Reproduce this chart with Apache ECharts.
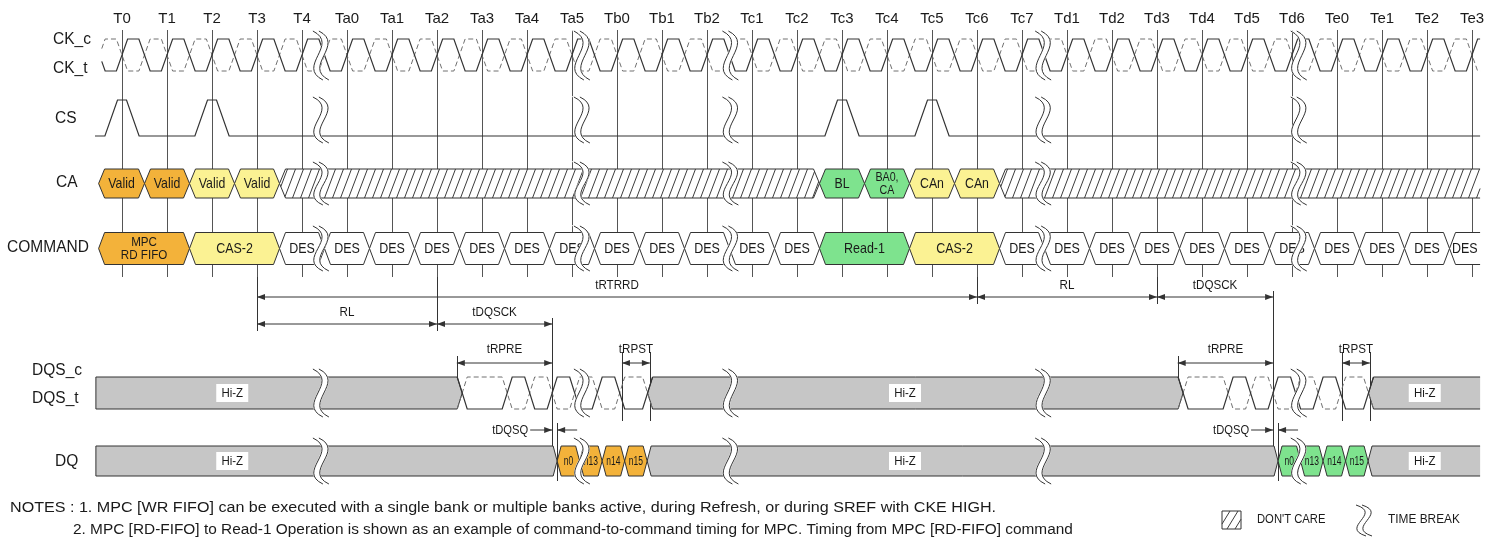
<!DOCTYPE html>
<html>
<head>
<meta charset="utf-8">
<title>MPC RD FIFO to Read-1 timing</title>
<script src="https://cdn.jsdelivr.net/npm/echarts@6.0.0/dist/echarts.min.js"></script>
<style>
html,body{margin:0;padding:0;background:#ffffff;}
#chart{width:1491px;height:540px;}
</style>
</head>
<body>
<div id="chart"></div>
<script>
// ======================= DATA (cycle units; T0 = 0) =======================
const tickLabels = ['T0','T1','T2','T3','T4','Ta0','Ta1','Ta2','Ta3','Ta4','Ta5','Tb0','Tb1','Tb2','Tc1','Tc2','Tc3','Tc4','Tc5','Tc6','Tc7','Td1','Td2','Td3','Td4','Td5','Td6','Te0','Te1','Te2','Te3'];
const signalNames = ['CK_c','CK_t','CS','CA','COMMAND','DQS_c','DQS_t','DQ'];
const timeBreaks = [4.42, 10.22, 13.52, 20.47, 26.15];
const csPulseAt = [0, 2, 16, 18];

const caSegments = [
  {from:-0.52, to:0.5,  label:'Valid', kind:'orange'},
  {from:0.5,   to:1.5,  label:'Valid', kind:'orange'},
  {from:1.5,   to:2.5,  label:'Valid', kind:'yellow'},
  {from:2.5,   to:3.5,  label:'Valid', kind:'yellow'},
  {from:3.5,   to:15.5, label:'',      kind:'dontcare'},
  {from:15.5,  to:16.5, label:'BL',    kind:'green'},
  {from:16.5,  to:17.5, label:'BA0,\nCA', kind:'green'},
  {from:17.5,  to:18.5, label:'CAn',   kind:'yellow'},
  {from:18.5,  to:19.5, label:'CAn',   kind:'yellow'},
  {from:19.5,  to:30.18,label:'',      kind:'dontcare'}
];

const commandSegments = [
  {from:-0.52, to:1.5,  label:'MPC\nRD FIFO', kind:'orange'},
  {from:1.5,  to:3.5,  label:'CAS-2', kind:'yellow'},
  {from:3.5,  to:4.5,  label:'DES', kind:'des'},
  {from:4.5,  to:5.5,  label:'DES', kind:'des'},
  {from:5.5,  to:6.5,  label:'DES', kind:'des'},
  {from:6.5,  to:7.5,  label:'DES', kind:'des'},
  {from:7.5,  to:8.5,  label:'DES', kind:'des'},
  {from:8.5,  to:9.5,  label:'DES', kind:'des'},
  {from:9.5,  to:10.5, label:'DES', kind:'des'},
  {from:10.5, to:11.5, label:'DES', kind:'des'},
  {from:11.5, to:12.5, label:'DES', kind:'des'},
  {from:12.5, to:13.5, label:'DES', kind:'des'},
  {from:13.5, to:14.5, label:'DES', kind:'des'},
  {from:14.5, to:15.5, label:'DES', kind:'des'},
  {from:15.5, to:17.5, label:'Read-1', kind:'green'},
  {from:17.5, to:19.5, label:'CAS-2', kind:'yellow'},
  {from:19.5, to:20.5, label:'DES', kind:'des'},
  {from:20.5, to:21.5, label:'DES', kind:'des'},
  {from:21.5, to:22.5, label:'DES', kind:'des'},
  {from:22.5, to:23.5, label:'DES', kind:'des'},
  {from:23.5, to:24.5, label:'DES', kind:'des'},
  {from:24.5, to:25.5, label:'DES', kind:'des'},
  {from:25.5, to:26.5, label:'DES', kind:'des'},
  {from:26.5, to:27.5, label:'DES', kind:'des'},
  {from:27.5, to:28.5, label:'DES', kind:'des'},
  {from:28.5, to:29.5, label:'DES', kind:'des'},
  {from:29.5, to:30.18,label:'DES', kind:'des'}
];

const dqsHiZ = [
  {from:-0.58, to:7.56,  label:'Hi-Z', labelAt:2.45, kind:'hiz'},
  {from:11.68, to:23.58, label:'Hi-Z', labelAt:17.4, kind:'hiz'},
  {from:27.7,  to:30.18, label:'Hi-Z', labelAt:28.95, kind:'hiz'}
];
// DQS_t toggle instants inside each burst (first edge rising)
const dqsBursts = [
  {from:7.56,  to:11.68, edges:[8.56, 9.06, 9.56, 10.06, 10.56, 11.06]},
  {from:23.58, to:27.7,  edges:[24.58, 25.08, 25.58, 26.08, 26.58, 27.08]}
];

const dqHiZ = [
  {from:-0.58, to:9.67,  label:'Hi-Z', labelAt:2.45, kind:'hiz'},
  {from:11.67, to:25.69, label:'Hi-Z', labelAt:17.4, kind:'hiz'},
  {from:27.69, to:30.18, label:'Hi-Z', labelAt:28.95, kind:'hiz'}
];
const dqData = [
  {from:9.67,  to:10.17, label:'n0',  kind:'orange'},
  {from:10.17, to:10.67, label:'n13', kind:'orange'},
  {from:10.67, to:11.17, label:'n14', kind:'orange'},
  {from:11.17, to:11.67, label:'n15', kind:'orange'},
  {from:25.69, to:26.19, label:'n0',  kind:'green'},
  {from:26.19, to:26.69, label:'n13', kind:'green'},
  {from:26.69, to:27.19, label:'n14', kind:'green'},
  {from:27.19, to:27.69, label:'n15', kind:'green'}
];

const dimensions = [
  {label:'tRTRRD', from:3,     to:19,    row:'upper'},
  {label:'RL',     from:19,    to:23,    row:'upper'},
  {label:'tDQSCK', from:23,    to:25.58, row:'upper'},
  {label:'RL',     from:3,     to:7,     row:'lower'},
  {label:'tDQSCK', from:7,     to:9.56,  row:'lower'},
  {label:'tRPRE',  from:7.44,  to:9.56,  row:'pre'},
  {label:'tRPST',  from:11.11, to:11.73, row:'pre'},
  {label:'tRPRE',  from:23.46, to:25.58, row:'pre'},
  {label:'tRPST',  from:27.11, to:27.73, row:'pre'},
  {label:'tDQSQ',  from:9.56,  to:9.67,  row:'dqsq'},
  {label:'tDQSQ',  from:25.58, to:25.69, row:'dqsq'}
];

const notes = [
  'NOTES : 1. MPC [WR FIFO] can be executed with a single bank or multiple banks active, during Refresh, or during SREF with CKE HIGH.',
  '2. MPC [RD-FIFO] to Read-1 Operation is shown as an example of command-to-command timing for MPC. Timing from MPC [RD-FIFO] command'
];
const legendLabels = ["DON'T CARE", 'TIME BREAK'];

// ======================= STYLE / LAYOUT =======================
const FONT = "'Liberation Sans', Arial, Helvetica, sans-serif";
const COL = {line:'#333333', tick:'#555555', dash:'#707070', text:'#1a1a1a'};
const FILL = {orange:'#F3B23A', yellow:'#FBF293', green:'#7EE38E', des:'#ffffff', dontcare:'#ffffff', hiz:'#C6C6C6'};
const L = {
  xLeft:-0.5, xRight:30.18, clkStart:-0.45, csStart:-0.6,
  tickTop:30, tickBottom:277,
  ck:{hi:39, lo:71, brk:[31,80]},
  cs:{hi:100, lo:136, brk:[97,143]},
  ca:{c:183.5, h:14.5, brk:[162,205]},
  cmd:{c:248.5, h:16, brk:[226,271]},
  dqs:{c:393, h:16, brk:[369,417]},
  dq:{c:461, h:15, brk:[438,484]},
  dimY:{upper:297, lower:324, pre:363, dqsq:430},
  dimExt:[
    [[277,331],[277,304]],
    [[277,304],[277,304]],
    [[277,304],[291,446]],
    [[277,331],[277,331]],
    [[277,331],[318,446]],
    [[356,393],[318,446]],
    [[352,421],[352,421]],
    [[356,393],[291,446]],
    [[352,421],[352,421]],
    [[318,446],[423,481]],
    [[291,446],[423,481]]
  ],
  names:[[53,40],[53,69],[55,119],[56,183],[7,248],[32,371],[32,399],[55,462]],
  notes:[[10,508, 1.15],[73,530, 1.1]]
};

// ======================= HELPERS =======================
function txt(x, y, text, size, o) {
  o = o || {};
  const st = {text:text, fill:o.color || COL.text, font:size + 'px ' + FONT,
      align:o.align || 'center', verticalAlign:o.va || 'middle'};
  if (o.lh) st.lineHeight = o.lh;
  return {type:'text', x:x, y:y, scaleX:o.sx || 1, z2:20, style:st};
}
function seg(x1, y1, x2, y2, o) {
  o = o || {};
  return {type:'line', shape:{x1:x1, y1:y1, x2:x2, y2:y2},
    style:{stroke:o.stroke || COL.line, lineWidth:o.lw || 1}};
}
function arrowHead(tipX, y, dir) {
  const len = 8, w = 3;
  return {type:'polygon', shape:{points:[[tipX, y], [tipX - dir * len, y - w], [tipX - dir * len, y + w]]},
    style:{fill:COL.line}};
}
function clipSegToPoly(p0, p1, poly) {
  let t0 = 0, t1 = 1;
  const dx = p1[0] - p0[0], dy = p1[1] - p0[1];
  let area = 0;
  for (let i = 0; i < poly.length; i++) {
    const a = poly[i], b = poly[(i + 1) % poly.length];
    area += a[0] * b[1] - b[0] * a[1];
  }
  const s = area > 0 ? 1 : -1;
  for (let i = 0; i < poly.length; i++) {
    const a = poly[i], b = poly[(i + 1) % poly.length];
    const ex = b[0] - a[0], ey = b[1] - a[1];
    const num = s * (ex * (p0[1] - a[1]) - ey * (p0[0] - a[0]));
    const den = s * (ex * dy - ey * dx);
    if (Math.abs(den) < 1e-9) { if (num < 0) return null; }
    else { const t = -num / den; if (den > 0) t0 = Math.max(t0, t); else t1 = Math.min(t1, t); }
  }
  if (t0 >= t1) return null;
  return [[p0[0] + dx * t0, p0[1] + dy * t0], [p0[0] + dx * t1, p0[1] + dy * t1]];
}
function hatch(poly, xa, xb, yt, yb) {
  const out = [], slant = 11, step = 8;
  for (let x = xa - slant; x < xb + 1; x += step) {
    const c = clipSegToPoly([x, yb], [x + slant, yt], poly);
    if (c) out.push(seg(c[0][0], c[0][1], c[1][0], c[1][1], {stroke:'#3c3c3c'}));
  }
  return out;
}
function cubicPts(P, n) {
  const out = [];
  for (let k = 0; k <= n; k++) {
    const t = k / n, u = 1 - t;
    out.push([u*u*u*P[0][0] + 3*u*u*t*P[1][0] + 3*u*t*t*P[2][0] + t*t*t*P[3][0],
              u*u*u*P[0][1] + 3*u*u*t*P[1][1] + 3*u*t*t*P[2][1] + t*t*t*P[3][1]]);
  }
  return out;
}
function breakSymbol(x, ya, yb) {
  const h = yb - ya, g = 3;
  const c = o => [[x + o - 5, ya], [x + o + 22, ya + h * 0.28], [x + o - 22, ya + h * 0.72], [x + o + 5, yb]];
  const A = c(-g), B = c(g);
  const fillPts = cubicPts(A, 24).concat(cubicPts(B, 24).reverse());
  const curve = P => ({type:'bezierCurve',
    shape:{x1:P[0][0], y1:P[0][1], cpx1:P[1][0], cpy1:P[1][1], cpx2:P[2][0], cpy2:P[2][1], x2:P[3][0], y2:P[3][1]},
    style:{fill:'none', stroke:COL.line, lineWidth:1}});
  return [
    {type:'polygon', shape:{points:fillPts}, style:{fill:'#ffffff', stroke:'#ffffff', lineWidth:1.5}},
    curve(A), curve(B)
  ];
}
function clipX(pts, a, b) {
  const out = [];
  for (let k = 0; k < pts.length; k++) {
    const p = pts[k], q = pts[k - 1];
    if (p[0] >= a && p[0] <= b) {
      if (out.length === 0 && q && q[0] < a) out.push([a, q[1] + (p[1] - q[1]) * (a - q[0]) / (p[0] - q[0])]);
      out.push(p);
    } else if (p[0] > b && q && q[0] <= b) {
      out.push([b, q[1] + (p[1] - q[1]) * (b - q[0]) / (p[0] - q[0])]);
      break;
    }
  }
  return out;
}
function crisp(x) { return Math.round(x) + 0.5; }

// bus/segment renderer (CA, COMMAND, DQS Hi-Z, DQ)
function busRenderer(items, row, inset, textSize, textSx, multiSize) {
  return function (params, api) {
    const it = items[params.dataIndex];
    const X = v => api.coord([v, L[row].c])[0];
    const Yc = api.coord([0, L[row].c])[1];
    const yt = Yc - L[row].h, yb = Yc + L[row].h;
    const from = api.value(0), to = api.value(1);
    const xa = X(from), xb = X(to);
    const startMode = (it.kind === 'hiz' && from <= L.xLeft) ? 'flat' : 'point';
    const endMode = to >= L.xRight ? 'open' : 'point';
    const left = startMode === 'point' ? [[xa + inset, yb], [xa, Yc], [xa + inset, yt]] : [[xa, yb], [xa, yt]];
    const right = endMode === 'point' ? [[xb - inset, yt], [xb, Yc], [xb - inset, yb]] : [[xb, yt], [xb, yb]];
    const poly = left.concat(right);
    const kids = [{type:'polygon', shape:{points:poly}, style:{fill:FILL[it.kind]}}];
    if (it.kind === 'dontcare') kids.push.apply(kids, hatch(poly, xa, xb, yt, yb));
    if (endMode === 'open') {
      kids.push({type:'polyline', shape:{points:[[xb, yb]].concat(left, [[xb, yt]])},
        style:{fill:'none', stroke:COL.line, lineWidth:1}});
    } else {
      kids.push({type:'polygon', shape:{points:poly}, style:{fill:'none', stroke:COL.line, lineWidth:1}});
    }
    if (it.kind === 'hiz') {
      const lx = X(it.labelAt);
      kids.push({type:'rect', shape:{x:lx - 16, y:Yc - 9, width:32, height:18}, style:{fill:'#ffffff'}});
      kids.push(txt(lx, Yc + 0.5, it.label, 13.5, {sx:0.85}));
    } else if (it.label) {
      const multi = it.label.indexOf('\n') >= 0;
      kids.push(txt((xa + xb) / 2, Yc + 0.5, it.label, multi ? multiSize : textSize,
        {sx:textSx, lh:multi ? multiSize - 0.5 : 0}));
    }
    return {type:'group', children:kids};
  };
}

function renderTick(params, api) {
  const x = crisp(api.coord([api.value(0), 0])[0]);
  const y0 = api.coord([0, L.tickTop])[1], y1 = api.coord([0, L.tickBottom])[1];
  return seg(x, y0, x, y1, {stroke:COL.tick});
}

function renderClock(params, api) {
  const a = api.value(0), b = api.value(1), w = 0.125;
  const base = [];
  for (let i = -1; i <= tickLabels.length; i++) {
    base.push([i - w, 0], [i + w, 1], [i + 0.5 - w, 1], [i + 0.5 + w, 0]);
  }
  const pts = clipX(base, a, b);
  const solid = pts.map(p => [api.coord([p[0], 0])[0], api.coord([0, L.ck.lo + (L.ck.hi - L.ck.lo) * p[1]])[1]]);
  const dashed = pts.map(p => [api.coord([p[0], 0])[0], api.coord([0, L.ck.hi + (L.ck.lo - L.ck.hi) * p[1]])[1]]);
  return {type:'group', children:[
    {type:'polyline', shape:{points:dashed}, style:{fill:'none', stroke:COL.dash, lineWidth:1, lineDash:[5, 3]}},
    {type:'polyline', shape:{points:solid}, style:{fill:'none', stroke:COL.line, lineWidth:1.2}}
  ]};
}

function renderCS(params, api) {
  const a = api.value(0), b = api.value(1);
  const P = (x, y) => api.coord([x, y]);
  const pts = [P(a, L.cs.lo)];
  csPulseAt.forEach(p => {
    pts.push(P(p - 0.38, L.cs.lo), P(p - 0.1, L.cs.hi), P(p + 0.1, L.cs.hi), P(p + 0.38, L.cs.lo));
  });
  pts.push(P(b, L.cs.lo));
  return {type:'polyline', shape:{points:pts}, style:{fill:'none', stroke:COL.line, lineWidth:1.2}};
}

function renderDQS(params, api) {
  const bu = dqsBursts[params.dataIndex];
  const hi = api.coord([0, L.dqs.c - L.dqs.h])[1], lo = api.coord([0, L.dqs.c + L.dqs.h])[1];
  const X = v => api.coord([v, 0])[0];
  const d = 5, w = 5;
  function wave(inv) {
    const lv = high => (high !== inv) ? hi : lo;
    const x0 = X(api.value(0)), x1 = X(api.value(1));
    const pts = [[x0 - d, lv(true)], [x0 + d, lv(false)]];
    let level = false;
    bu.edges.forEach(e => { const xe = X(e); pts.push([xe - w, lv(level)]); level = !level; pts.push([xe + w, lv(level)]); });
    pts.push([x1 - d, lv(level)], [x1 + d, lv(!level)]);
    return pts;
  }
  return {type:'group', children:[
    {type:'polyline', shape:{points:wave(true)}, style:{fill:'none', stroke:COL.dash, lineWidth:1, lineDash:[5, 3]}},
    {type:'polyline', shape:{points:wave(false)}, style:{fill:'none', stroke:COL.line, lineWidth:1.2}}
  ]};
}

function renderDim(params, api) {
  const i = params.dataIndex, dm = dimensions[i];
  const yv = L.dimY[dm.row];
  const Y = v => api.coord([0, v])[1];
  const yy = Y(yv);
  const xa = api.coord([api.value(0), yv])[0], xb = api.coord([api.value(1), yv])[0];
  const ext = L.dimExt[i];
  const kids = [];
  [[xa, ext[0]], [xb, ext[1]]].forEach(e => {
    const xx = crisp(e[0]);
    kids.push(seg(xx, Y(e[1][0]), xx, Y(e[1][1]), {stroke:COL.line}));
  });
  if (dm.row === 'dqsq') {
    kids.push(seg(xa - 22, yy, xa, yy), arrowHead(xa, yy, 1), seg(xb, yy, xb + 20, yy), arrowHead(xb, yy, -1));
    kids.push(txt(xa - 24, yy, dm.label, 13, {align:'right', sx:0.86}));
  } else {
    kids.push(seg(xa, yy, xb, yy), arrowHead(xa, yy, -1), arrowHead(xb, yy, 1));
    kids.push(txt((xa + xb) / 2, yy - (dm.row === 'pre' ? 14 : 12), dm.label, 13.5, {sx:0.86}));
  }
  return {type:'group', children:kids};
}

function renderBreak(params, api) {
  const x = api.coord([api.value(0), 0])[0];
  const kids = [];
  ['ck', 'cs', 'ca', 'cmd', 'dqs', 'dq'].forEach(r => {
    const ya = api.coord([0, L[r].brk[0]])[1], yb = api.coord([0, L[r].brk[1]])[1];
    kids.push.apply(kids, breakSymbol(x, ya, yb));
  });
  return {type:'group', children:kids};
}

function custom(name, data, z, renderItem) {
  return {type:'custom', name:name, coordinateSystem:'cartesian2d', data:data, z:z,
    clip:false, silent:true, animation:false, renderItem:renderItem};
}

// ======================= GRAPHIC (row names, notes, legend) =======================
const graphics = [];
signalNames.forEach((n, i) => {
  graphics.push({type:'text', x:L.names[i][0], y:L.names[i][1], scaleX:0.97,
    style:{text:n, font:'16px ' + FONT, fill:COL.text, align:'left', verticalAlign:'middle'}});
});
notes.forEach((n, i) => {
  graphics.push({type:'text', x:L.notes[i][0], y:L.notes[i][1], scaleX:L.notes[i][2],
    style:{text:n, font:'14px ' + FONT, fill:COL.text, align:'left', verticalAlign:'middle'}});
});
(function legend() {
  const bx = 1222, by = 511, bw = 19, bh = 18;
  const box = [[bx, by], [bx + bw, by], [bx + bw, by + bh], [bx, by + bh]];
  graphics.push({type:'rect', shape:{x:bx, y:by, width:bw, height:bh}, style:{fill:'#fff', stroke:COL.line, lineWidth:1}});
  hatch(box, bx, bx + bw, by, by + bh).forEach(h => graphics.push(h));
  graphics.push({type:'text', x:1257, y:520, scaleX:0.9,
    style:{text:legendLabels[0], font:'12.5px ' + FONT, fill:COL.text, align:'left', verticalAlign:'middle'}});
  breakSymbol(1364, 505, 536).forEach(b => graphics.push(b));
  graphics.push({type:'text', x:1388, y:520, scaleX:0.95,
    style:{text:legendLabels[1], font:'12.5px ' + FONT, fill:COL.text, align:'left', verticalAlign:'middle'}});
})();

// ======================= OPTION =======================
const option = {
  animation:false,
  backgroundColor:'#ffffff',
  grid:{left:122, right:19, top:30, bottom:0, outerBoundsMode:'none'},
  xAxis:{type:'value', min:0, max:tickLabels.length - 1, interval:1, position:'top',
    axisLine:{show:false}, axisTick:{show:false}, splitLine:{show:false},
    axisLabel:{show:true, margin:4, fontSize:15, fontFamily:FONT, color:COL.text,
      showMinLabel:true, showMaxLabel:true,
      formatter:v => tickLabels[Math.round(v)] || ''}},
  yAxis:{type:'value', min:30, max:540, inverse:true, show:false},
  graphic:graphics,
  series:[
    custom('ticks', tickLabels.map((t, i) => [i, 0]), 1, renderTick),
    custom('clock', [[L.clkStart, L.xRight]], 3, renderClock),
    custom('cs', [[L.csStart, L.xRight]], 3, renderCS),
    custom('ca', caSegments.map(s => [s.from, s.to]), 3, busRenderer(caSegments, 'ca', 6, 15, 0.82, 13)),
    custom('command', commandSegments.map(s => [s.from, s.to]), 3, busRenderer(commandSegments, 'cmd', 6, 14.5, 0.86, 13.5)),
    custom('dims', dimensions.map(d => [d.from, d.to]), 3, renderDim),
    custom('dqsHiZ', dqsHiZ.map(s => [s.from, s.to]), 3, busRenderer(dqsHiZ, 'dqs', 5, 13, 0.88, 12)),
    custom('dqs', dqsBursts.map(b => [b.from, b.to]), 3, renderDQS),
    custom('dq', dqHiZ.concat(dqData).map(s => [s.from, s.to]), 3, busRenderer(dqHiZ.concat(dqData), 'dq', 4, 12.5, 0.68, 12)),
    custom('breaks', timeBreaks.map(b => [b, 0]), 6, renderBreak)
  ]
};
const chart = echarts.init(document.getElementById('chart'), null, {renderer:'canvas', width:1491, height:540});
chart.setOption(option);
</script>
</body>
</html>
